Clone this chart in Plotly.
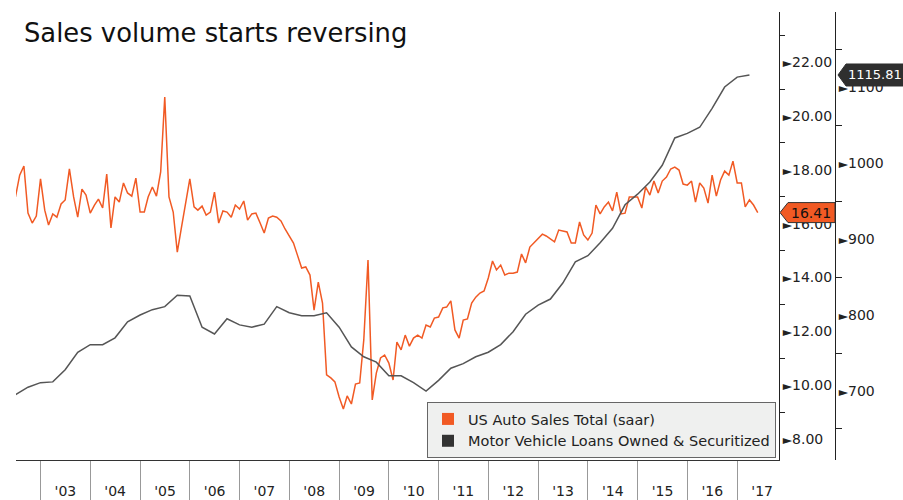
import pandas as pd
import plotly.graph_objects as go

# US auto sales, SAAR (millions), monthly Jul 2002 - Jun 2017
sales_values = [
    16.99, 17.80, 18.14, 16.39, 16.02, 16.28, 17.66, 16.50, 15.95, 16.36, 16.24, 16.73,
    16.88, 18.03, 16.99, 16.24, 17.28, 17.06, 16.39, 16.69, 16.91, 16.58, 17.84, 15.84,
    16.99, 16.80, 17.51, 17.14, 17.02, 17.69, 16.43, 16.43, 16.99, 17.36, 17.02, 17.92,
    20.70, 16.99, 16.43, 14.94, 15.87, 16.76, 17.66, 16.62, 16.50, 16.65, 16.32,
    16.43, 17.17, 16.02, 16.47, 16.43, 16.24, 16.69, 16.54, 16.84, 16.13, 16.36, 16.39,
    16.02, 15.65, 16.21, 16.28, 16.24, 16.10, 15.80, 15.54, 15.28, 14.83, 14.35, 14.39,
    14.09, 12.79, 13.83, 13.05, 10.38, 10.27, 10.12, 9.56, 9.11, 9.60, 9.30, 10.04,
    10.08, 11.68, 14.65, 9.45, 10.45, 11.01, 11.12, 10.82, 10.19, 11.60,
    11.31, 11.86, 11.45, 11.75, 11.86, 11.75, 12.23, 12.16, 12.49, 12.53, 12.87, 12.90,
    13.13, 12.05, 11.75, 12.42, 12.46, 13.05, 13.27, 13.42, 13.50, 13.98, 14.61, 14.28,
    14.46, 14.09, 14.16, 14.16, 14.20, 14.87, 14.54, 15.13, 15.28, 15.46, 15.61, 15.54,
    15.43, 15.32, 15.76, 15.72, 15.69, 15.28, 15.28,
    16.06, 15.58, 15.39, 15.65, 16.69, 16.36, 16.62, 16.80, 16.47, 17.17, 16.36, 16.39,
    16.99, 16.99, 16.99, 16.58, 17.36, 17.06, 17.58, 17.14, 17.58, 17.73, 18.03, 18.10,
    17.99, 17.47, 17.43, 17.58, 16.80, 17.51, 17.32, 16.76, 17.80, 17.02, 17.62, 17.95,
    17.80, 18.32, 17.51, 17.51, 16.62, 16.88, 16.69, 16.41,
]
sales_dates = pd.date_range('2002-07-01', periods=len(sales_values), freq='MS')

# Motor vehicle loans owned & securitized ($bn), quarterly
loan_values = [
    695, 705, 711, 712, 728, 751, 761, 761, 770, 791, 800, 807, 811, 826, 825, 784,
    775, 795, 787, 784, 788, 811, 803, 799, 799, 803, 784, 758, 745, 738, 720, 720,
    711, 700, 714, 730, 736, 745, 751, 761, 778, 801, 813, 821, 842, 870, 878, 895,
    914, 945, 959, 975, 997, 1033, 1039, 1047, 1072, 1100, 1113, 1115.81,
]
loan_dates = pd.date_range('2002-07-01', periods=len(loan_values), freq='QS')

sales_ticks = [8, 10, 12, 14, 16, 18, 20, 22]
sales_minor = [9, 11, 13, 15, 17, 19, 21, 23]
loan_ticks = [700, 800, 900, 1000, 1100]
loan_minor = [650, 750, 850, 950, 1050, 1150]

ORANGE = '#f15a24'
DARK = '#333333'
FONT = 'DejaVu Sans'
TRI = "<span style='font-size:12px'>&#9658;</span>"

fig = go.Figure()
fig.add_trace(go.Scatter(x=sales_dates, y=sales_values, mode='lines',
                         line=dict(color=ORANGE, width=1.5), yaxis='y', showlegend=False))
fig.add_trace(go.Scatter(x=loan_dates, y=loan_values, mode='lines',
                         line=dict(color='#555555', width=1.5), yaxis='y2', showlegend=False))
# legend swatches
fig.add_trace(go.Scatter(x=[None], y=[None], mode='markers', name='US Auto Sales Total (saar)',
                         marker=dict(symbol='square', size=12, color=ORANGE)))
fig.add_trace(go.Scatter(x=[None], y=[None], mode='markers',
                         name='Motor Vehicle Loans Owned & Securitized',
                         marker=dict(symbol='square', size=12, color=DARK)))

ml = 16
pw = 903 - ml
x_sales = (779 - ml) / pw
x_loans = (835 - ml) / pw

fig.update_layout(
    width=903, height=500,
    margin=dict(l=ml, r=0, t=12, b=40),
    paper_bgcolor='white', plot_bgcolor='white',
    font=dict(family=FONT, size=14, color='#222'),
    xaxis=dict(
        domain=[0, x_sales], type='date',
        range=['2002-07-05', '2017-11-04'],
        showline=True, linecolor='#333', linewidth=1,
        ticks='outside', ticklen=40, tickcolor='#999', tickwidth=1,
        tick0='2003-01-01', dtick='M12', tickformat="'%y",
        ticklabelmode='period', ticklabelstandoff=-22,
        showgrid=False, zeroline=False,
        tickfont=dict(size=14, color='#222'),
    ),
    yaxis=dict(
        range=[7.22, 23.86], side='right', anchor='x',
        showline=True, linecolor='#222', linewidth=1,
        tickmode='array', tickvals=sales_ticks,
        ticktext=[TRI + f'{v:.2f}' for v in sales_ticks],
        ticks='', showgrid=False, zeroline=False,
        minor=dict(tickmode='array', tickvals=sales_minor, ticks='outside',
                   ticklen=5, tickcolor='#222', showgrid=False),
        tickfont=dict(size=14, color='#222'),
    ),
    yaxis2=dict(
        range=[609.2, 1198.7], side='right', overlaying='y', anchor='free',
        position=x_loans,
        showline=True, linecolor='#222', linewidth=1,
        tickmode='array', tickvals=loan_ticks,
        ticktext=[TRI + f'{v}' for v in loan_ticks],
        ticks='', showgrid=False, zeroline=False,
        minor=dict(tickmode='array', tickvals=loan_minor, ticks='outside',
                   ticklen=6, tickcolor='#222', showgrid=False),
        tickfont=dict(size=14, color='#222'),
    ),
    legend=dict(
        x=(427 - ml) / pw, y=(460 - 402) / 448, xanchor='left', yanchor='top',
        bgcolor='#eff0ef', bordercolor='#666', borderwidth=1,
        font=dict(size=14.5, color='#222'), tracegroupgap=0, itemwidth=30,
    ),
)

fig.add_annotation(text='Sales volume starts reversing', xref='paper', yref='paper',
                   x=(22 - ml) / pw, y=(460 - 33) / 448, xanchor='left', yanchor='middle',
                   showarrow=False, font=dict(size=25.8, color='#111'))

# last-value tags
last_sales = sales_values[-1]
last_loans = loan_values[-1]
fig.add_shape(type='path', xref='paper', yref='y', xsizemode='pixel', ysizemode='pixel',
              xanchor=x_sales, yanchor=last_sales,
              path='M1,0 L9,10 L56,10 L56,-10 L9,-10 Z',
              fillcolor=ORANGE, line=dict(color='#333', width=1))
fig.add_annotation(text=f'{last_sales:.2f}', xref='paper', yref='y',
                   x=(811 - ml) / pw, y=last_sales, xanchor='center', yanchor='middle',
                   showarrow=False, font=dict(size=14, color='#111'))
fig.add_shape(type='path', xref='paper', yref='y2', xsizemode='pixel', ysizemode='pixel',
              xanchor=x_loans, yanchor=last_loans,
              path='M3,0 L11,11 L75,11 L75,-11 L11,-11 Z',
              fillcolor='#2f2f2f', line=dict(color='#2f2f2f', width=1))
fig.add_annotation(text=f'{last_loans:.2f}', xref='paper', yref='y2',
                   x=(846 - ml) / pw, y=last_loans, xanchor='left', yanchor='middle',
                   showarrow=False, font=dict(size=13, color='white'))

fig.write_html('out.html', config={'displayModeBar': False},
               post_script="document.body.style.margin='0';")
